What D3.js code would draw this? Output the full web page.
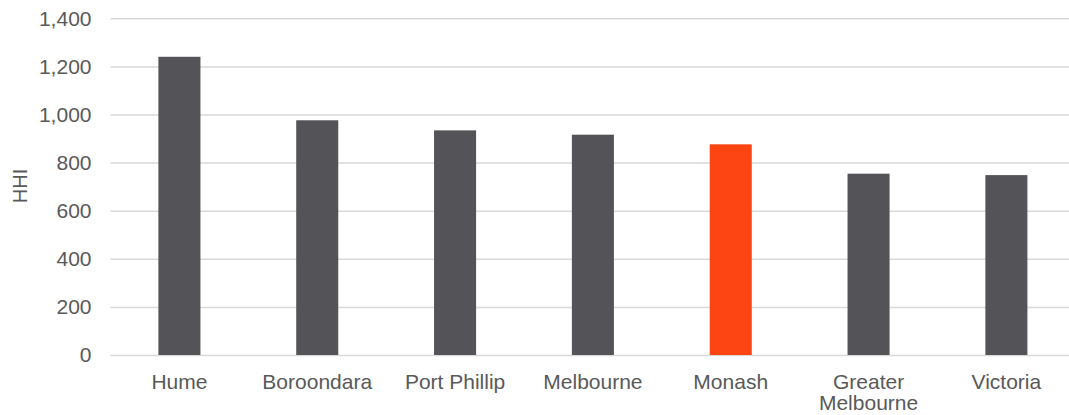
<!DOCTYPE html>
<html><head><meta charset="utf-8">
<script src="https://cdn.jsdelivr.net/npm/d3@7"></script>
<style>body{margin:0;background:#fff}svg{display:block}</style>
</head><body><svg id="c" width="1069" height="415"></svg>
<script>
const categories = ["Hume","Boroondara","Port Phillip","Melbourne","Monash","Greater Melbourne","Victoria"];
const values = [1240, 976, 934, 916, 876, 754, 748];
const highlight = ["Monash"];
const yTicks = [0,200,400,600,800,1000,1200,1400];
const yTitle = "HHI";

const svg = d3.select("#c");
const font = "'Liberation Sans', Arial, sans-serif";
const x = d3.scaleBand().domain(categories).range([110.5,1075.3]).paddingInner(0.695).paddingOuter(0.3475);
const y = d3.scaleLinear().domain([0,1400]).range([355,18.3]);

const yAxis = d3.axisLeft(y).tickValues(yTicks).tickSize(-(1075.3-110.5)).tickPadding(19).tickFormat(d3.format(","));
const gy = svg.append("g").attr("transform","translate(110.5,0)").call(yAxis);
gy.select(".domain").remove();
gy.selectAll("line").attr("stroke","#d9d9d9").attr("stroke-width",1.5);
gy.selectAll("text").attr("fill","#595959").style("font-family",font).style("font-size","21px");

svg.append("g").selectAll("rect").data(categories).join("rect")
  .attr("x",d=>x(d)).attr("width",x.bandwidth())
  .attr("y",(d,i)=>y(values[i])).attr("height",(d,i)=>y(0)-y(values[i]))
  .attr("fill",d=>highlight.includes(d)?"#fc4512":"#545458");

const xl = svg.append("g").selectAll("text").data(categories).join("text")
  .attr("text-anchor","middle").attr("fill","#595959")
  .style("font-family",font).style("font-size","21px")
  .attr("transform",d=>`translate(${x(d)+x.bandwidth()/2},388.5)`);
xl.each(function(d){
  const words = d==="Greater Melbourne" ? ["Greater","Melbourne"] : [d];
  d3.select(this).selectAll("tspan").data(words).join("tspan")
    .attr("x",0).attr("dy",(w,i)=>i===0?0:21.5).text(w=>w);
});

svg.append("text").attr("transform","translate(27,186) rotate(-90)")
  .attr("text-anchor","middle").attr("fill","#595959")
  .style("font-family",font).style("font-size","20px").text(yTitle);
</script></body></html>
